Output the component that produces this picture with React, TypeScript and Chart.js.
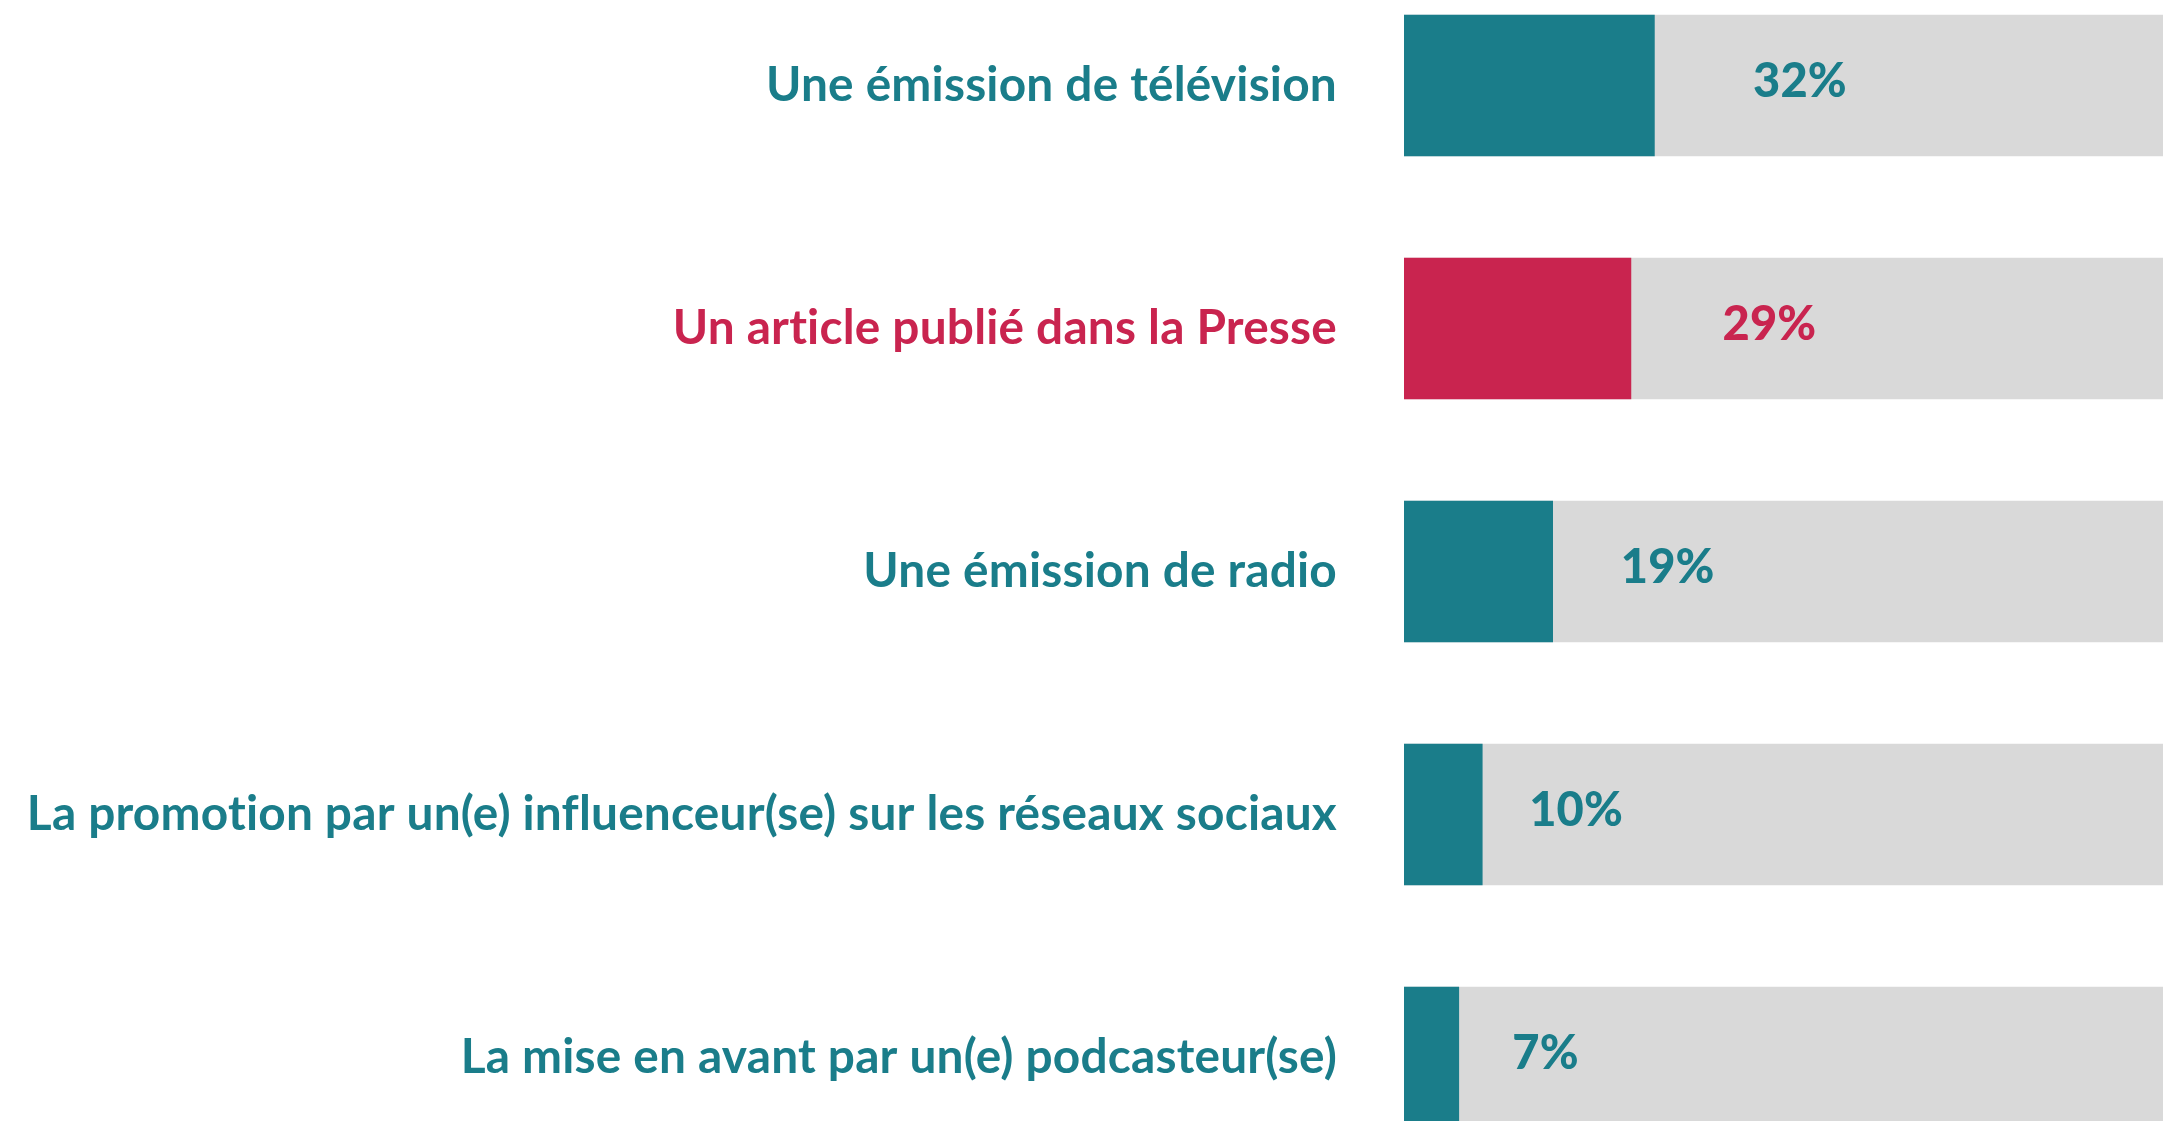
import React, { useEffect, useRef } from "react";
import { Chart, registerables } from "chart.js";

Chart.register(...registerables);

const categories = [
  "Une émission de télévision",
  "Un article publié dans la Presse",
  "Une émission de radio",
  "La promotion par un(e) influenceur(se) sur les réseaux sociaux",
  "La mise en avant par un(e) podcasteur(se)",
];
const values = [32, 29, 19, 10, 7];
const fullValues = [100, 100, 100, 100, 100];
const highlightIndex = 1;

const TEAL = "#1a7d8a";
const RED = "#c9244f";
const GRAY = "#d9d9d9";
const FONT = "Lato, 'Open Sans', sans-serif";

const colorFor = (i: number) => (i === highlightIndex ? RED : TEAL);

export default function App() {
  const ref = useRef<HTMLCanvasElement | null>(null);

  useEffect(() => {
    document.body.style.margin = "0";
    const canvas = ref.current;
    if (!canvas) return;

    const spacing = {
      id: "spacing",
      beforeDraw(chart: any) {
        try {
          chart.ctx.letterSpacing = "0.2px";
        } catch (e) {}
      },
    };

    const valueLabels = {
      id: "valueLabels",
      afterDatasetsDraw(chart: any) {
        const ctx = chart.ctx;
        const xs = chart.scales.x;
        const ys = chart.scales.y;
        ctx.save();
        ctx.font = `900 47px ${FONT}`;
        ctx.textAlign = "center";
        ctx.textBaseline = "middle";
        values.forEach((v, i) => {
          ctx.fillStyle = colorFor(i);
          const x = xs.getPixelForValue(v * 1.3 + 9);
          const y = ys.getPixelForValue(i) - 4;
          ctx.fillText(`${v}%`, x, y);
        });
        ctx.restore();
      },
    };

    const chart = new Chart(canvas, {
      type: "bar",
      data: {
        labels: categories,
        datasets: [
          {
            data: values,
            backgroundColor: values.map((_, i) => colorFor(i)),
            barThickness: 141,
            grouped: false,
          } as any,
          {
            data: fullValues,
            backgroundColor: GRAY,
            barThickness: 141,
            grouped: false,
          } as any,
        ],
      },
      options: {
        indexAxis: "y",
        animation: false,
        responsive: true,
        maintainAspectRatio: false,
        layout: { padding: 0 },
        plugins: {
          legend: { display: false },
          tooltip: { enabled: false },
        },
        scales: {
          x: {
            display: false,
            min: 0,
            max: 97,
          },
          y: {
            grid: { display: false, drawTicks: false },
            border: { display: false },
            ticks: {
              padding: 67,
              color: categories.map((_, i) => colorFor(i)) as any,
              font: { family: FONT, size: 47.8, weight: "bold" },
            },
            afterFit(scale: any) {
              scale.width = 1404;
              scale.paddingTop = 0;
              scale.paddingBottom = 0;
            },
          },
        },
      },
      plugins: [spacing, valueLabels],
    });

    return () => chart.destroy();
  }, []);

  return (
    <div
      style={{
        position: "relative",
        width: 2163,
        height: 1121,
        overflow: "hidden",
        background: "#ffffff",
      }}
    >
      <div style={{ position: "absolute", left: 0, top: -36, width: 2163, height: 1215 }}>
        <canvas ref={ref} />
      </div>
    </div>
  );
}
